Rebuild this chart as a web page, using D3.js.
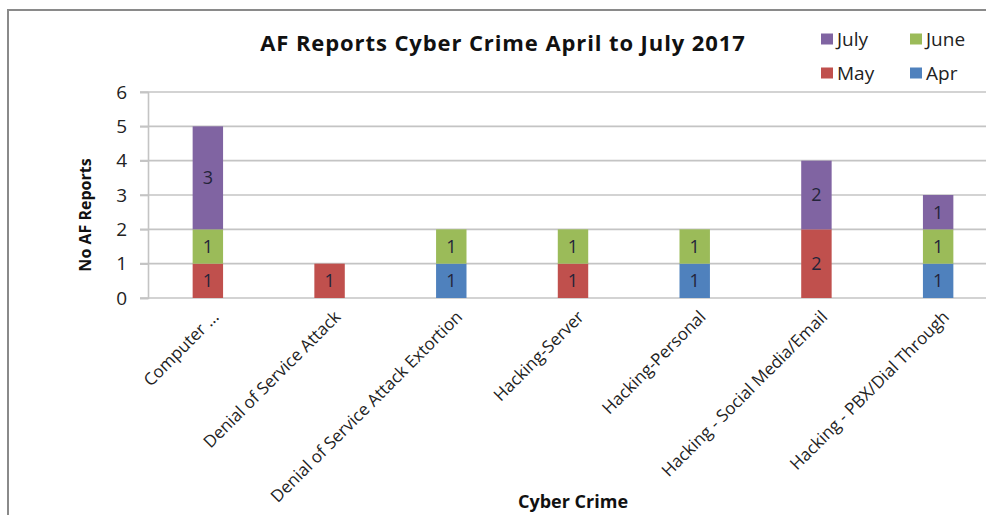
<!DOCTYPE html>
<html>
<head>
<meta charset="utf-8">
<script src="https://cdn.jsdelivr.net/npm/d3@7"></script>
<style>
body { margin: 0; background: #fff; }
svg { display: block; }
</style>
</head>
<body>
<div id="figure"></div>
<script>
var categories = ["Computer ...", "Denial of Service Attack", "Denial of Service Attack Extortion",
	"Hacking-Server", "Hacking-Personal", "Hacking - Social Media/Email", "Hacking - PBX/Dial Through"];
var apr  = [0, 0, 1, 0, 1, 0, 1];
var may  = [1, 1, 0, 1, 0, 2, 0];
var june = [1, 0, 1, 1, 1, 0, 1];
var july = [3, 0, 0, 0, 0, 2, 1];
var seriesNames = ["Apr", "May", "June", "July"];
var seriesColors = ["#4F81BD", "#C0504D", "#9BBB59", "#8064A2"];
var yTicks = [0, 1, 2, 3, 4, 5, 6];

var W = 986, H = 515;
var font = "'Open Sans', Lato, sans-serif";

var svg = d3.select("#figure").append("svg").attr("width", W).attr("height", H);

// outer chart frame (cut off on right and bottom)
svg.append("rect")
	.attr("x", 8).attr("y", 10)
	.attr("width", 1000).attr("height", 520)
	.attr("fill", "#fff")
	.attr("stroke", "#8a8a8a")
	.attr("stroke-width", 2);

var x = d3.scaleBand()
	.domain(categories)
	.range([147, 999])
	.paddingInner(0.75)
	.paddingOuter(0.375);

var y = d3.scaleLinear().domain([0, 6]).range([298, 92]);

// gridlines
svg.selectAll("line.grid")
	.data(yTicks)
	.enter()
	.append("line")
	.attr("class", "grid")
	.attr("x1", 140)
	.attr("x2", W)
	.attr("y1", function(d) { return y(d); })
	.attr("y2", function(d) { return y(d); })
	.attr("stroke", "#c4c4c4")
	.attr("stroke-width", 1.6);

// y axis
var yAxis = svg.append("g")
	.attr("transform", "translate(148,0)")
	.call(d3.axisLeft(y).tickValues(yTicks).tickSize(8).tickPadding(13).tickFormat(d3.format("d")));
yAxis.select(".domain").attr("stroke", "#c4c4c4").attr("stroke-width", 1.6);
yAxis.selectAll(".tick line").attr("stroke", "#c4c4c4").attr("stroke-width", 1.6);
yAxis.selectAll(".tick text")
	.attr("font-family", font)
	.attr("font-size", "19px")
	.attr("fill", "#222");

// stacked bars
var rows = categories.map(function(c, i) {
	return { cat: c, Apr: apr[i], May: may[i], June: june[i], July: july[i] };
});
var stack = d3.stack().keys(seriesNames)(rows);

var layers = svg.selectAll("g.layer")
	.data(stack)
	.enter()
	.append("g")
	.attr("class", "layer")
	.attr("fill", function(d, i) { return seriesColors[i]; });

layers.selectAll("rect")
	.data(function(d) { return d.filter(function(s) { return s[1] - s[0] > 0; }); })
	.enter()
	.append("rect")
	.attr("x", function(d) { return x(d.data.cat); })
	.attr("y", function(d) { return y(d[1]); })
	.attr("width", x.bandwidth())
	.attr("height", function(d) { return y(d[0]) - y(d[1]); });

layers.selectAll("text")
	.data(function(d) { return d.filter(function(s) { return s[1] - s[0] > 0; }); })
	.enter()
	.append("text")
	.attr("x", function(d) { return x(d.data.cat) + x.bandwidth() / 2; })
	.attr("y", function(d) { return (y(d[0]) + y(d[1])) / 2; })
	.attr("dy", "0.36em")
	.attr("text-anchor", "middle")
	.attr("font-family", font)
	.attr("font-size", "18px")
	.attr("fill", "#24243a")
	.text(function(d) { return d[1] - d[0]; });

// category labels
svg.selectAll("text.cat")
	.data(categories)
	.enter()
	.append("text")
	.attr("class", "cat")
	.attr("text-anchor", "end")
	.attr("transform", function(d) {
		return "translate(" + (x(d) + x.bandwidth() / 2 + 12) + ",318)rotate(-45)";
	})
	.attr("font-family", font)
	.attr("font-size", "17px")
	.attr("fill", "#222")
	.text(function(d) { return d; });

// title
svg.append("text")
	.attr("x", 503).attr("y", 51)
	.attr("text-anchor", "middle")
	.attr("font-family", font)
	.attr("font-weight", "bold")
	.attr("font-size", "22px")
	.attr("letter-spacing", "0.9px")
	.attr("fill", "#111")
	.text("AF Reports Cyber Crime April to July 2017");

// axis titles
svg.append("text")
	.attr("transform", "translate(91,215)rotate(-90)")
	.attr("text-anchor", "middle")
	.attr("font-family", font)
	.attr("font-weight", "bold")
	.attr("font-size", "16px")
	.attr("fill", "#111")
	.text("No AF Reports");

svg.append("text")
	.attr("x", 573).attr("y", 508)
	.attr("text-anchor", "middle")
	.attr("font-family", font)
	.attr("font-weight", "bold")
	.attr("font-size", "18px")
	.attr("fill", "#111")
	.text("Cyber Crime");

// legend
var legendItems = [
	{ name: "July", color: seriesColors[3], x: 821, y: 39 },
	{ name: "June", color: seriesColors[2], x: 910, y: 39 },
	{ name: "May", color: seriesColors[1], x: 821, y: 73 },
	{ name: "Apr", color: seriesColors[0], x: 910, y: 73 }
];
var leg = svg.selectAll("g.legitem")
	.data(legendItems)
	.enter()
	.append("g")
	.attr("class", "legitem")
	.attr("transform", function(d) { return "translate(" + d.x + "," + d.y + ")"; });
leg.append("rect")
	.attr("x", 0).attr("y", -5.5)
	.attr("width", 12).attr("height", 11)
	.attr("fill", function(d) { return d.color; });
leg.append("text")
	.attr("x", 16)
	.attr("dy", "0.36em")
	.attr("font-family", font)
	.attr("font-size", "19px")
	.attr("fill", "#222")
	.text(function(d) { return d.name; });
</script>
</body>
</html>
